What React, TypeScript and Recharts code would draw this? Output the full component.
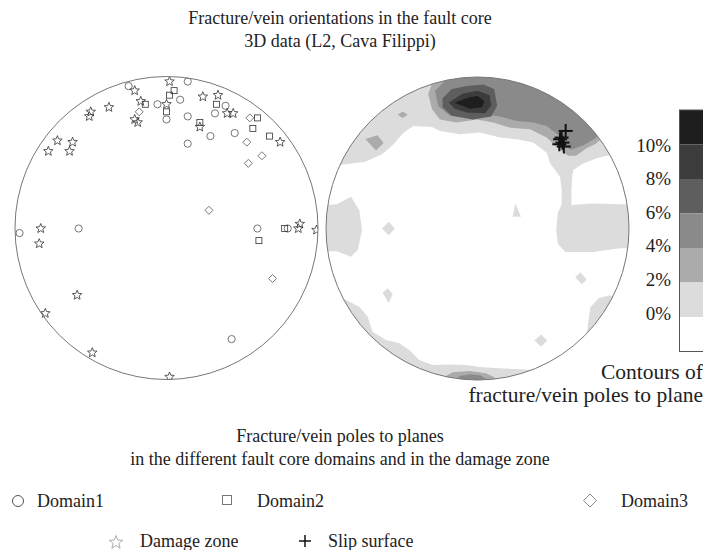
import React from "react";
import { ScatterChart, Scatter, XAxis, YAxis } from "recharts";

type Pt = { x: number; y: number };
type Poly = [number, number][];

// ---- left net: poles to planes, unit-circle coords ----
const domain1: Pt[] = [
  { x: -0.25, y: 0.94 }, { x: 0.14, y: 0.97 }, { x: 0.09, y: 0.85 }, { x: -0.06, y: 0.82 },
  { x: 0.0, y: 0.72 }, { x: 0.14, y: 0.74 }, { x: 0.32, y: 0.76 }, { x: 0.39, y: 0.81 },
  { x: 0.29, y: 0.61 }, { x: 0.45, y: 0.63 }, { x: 0.14, y: 0.56 }, { x: -0.97, y: -0.03 },
  { x: -0.58, y: 0.0 }, { x: 0.6, y: 0.0 }, { x: 0.8, y: 0.0 }, { x: 0.43, y: -0.73 },
];

const domain2: Pt[] = [
  { x: 0.05, y: 0.91 }, { x: 0.02, y: 0.88 }, { x: -0.14, y: 0.82 }, { x: 0.0, y: 0.77 },
  { x: 0.22, y: 0.7 }, { x: 0.33, y: 0.82 }, { x: 0.6, y: 0.73 }, { x: 0.57, y: 0.66 },
  { x: 0.68, y: 0.61 }, { x: 0.61, y: -0.08 }, { x: 0.78, y: 0.0 },
];

const domain3: Pt[] = [
  { x: -0.18, y: 0.77 }, { x: 0.55, y: 0.73 }, { x: 0.53, y: 0.57 }, { x: 0.63, y: 0.48 },
  { x: 0.54, y: 0.43 }, { x: 0.28, y: 0.12 }, { x: 0.7, y: -0.33 },
];

const damageZone: Pt[] = [
  { x: 0.02, y: 0.97 }, { x: -0.21, y: 0.91 }, { x: -0.17, y: 0.84 }, { x: 0.0, y: 0.82 },
  { x: 0.24, y: 0.87 }, { x: 0.34, y: 0.88 }, { x: 0.4, y: 0.76 }, { x: 0.44, y: 0.76 },
  { x: 0.22, y: 0.67 }, { x: -0.38, y: 0.8 }, { x: -0.5, y: 0.77 }, { x: -0.51, y: 0.74 },
  { x: -0.21, y: 0.72 }, { x: -0.19, y: 0.7 }, { x: -0.72, y: 0.58 }, { x: -0.62, y: 0.57 },
  { x: -0.78, y: 0.51 }, { x: -0.64, y: 0.51 }, { x: 0.75, y: 0.57 }, { x: -0.83, y: 0.0 },
  { x: -0.84, y: -0.1 }, { x: 0.88, y: 0.03 }, { x: 0.87, y: 0.0 }, { x: 0.99, y: -0.01 },
  { x: -0.59, y: -0.44 }, { x: -0.8, y: -0.56 }, { x: -0.49, y: -0.82 }, { x: 0.02, y: -0.98 },
];

// ---- right net: slip surfaces + density contours ----
const slipSurface: Pt[] = [
  { x: 0.582, y: 0.644 }, { x: 0.545, y: 0.589 }, { x: 0.561, y: 0.567 },
  { x: 0.54, y: 0.556 }, { x: 0.57, y: 0.541 }, { x: 0.555, y: 0.6 },
];

const c0Top: Poly = [
  [-1.1, 0.4], [-0.9, 0.42], [-0.74, 0.44], [-0.63, 0.49], [-0.56, 0.55], [-0.49, 0.63],
  [-0.424, 0.677], [-0.3, 0.67], [-0.248, 0.644], [-0.116, 0.622], [0.017, 0.633],
  [0.149, 0.6], [0.259, 0.589], [0.368, 0.567], [0.457, 0.5], [0.479, 0.43], [0.545, 0.342],
  [0.556, 0.25], [0.555, 0.16], [0.53, 0.1], [0.52, -0.01], [0.53, -0.1], [0.58, -0.155],
  [0.76, -0.155], [0.94, -0.13], [1.1, -0.13], [1.1, 0.155], [0.95, 0.16], [0.75, 0.165],
  [0.62, 0.155], [0.62, 0.25], [0.625, 0.34], [0.632, 0.386], [0.7, 0.43], [0.787, 0.463],
  [0.875, 0.485], [1.1, 0.5], [1.1, 1.1], [-1.1, 1.1],
];
const c0Left: Poly = [
  [-1.1, 0.15], [-0.93, 0.16], [-0.835, 0.21], [-0.78, 0.12], [-0.762, -0.01],
  [-0.79, -0.14], [-0.835, -0.186], [-0.93, -0.15], [-1.1, -0.15],
];
const c0Bottom: Poly = [
  [-1.0, -0.4], [-0.846, -0.483], [-0.78, -0.516], [-0.725, -0.582], [-0.692, -0.681],
  [-0.604, -0.736], [-0.516, -0.758], [-0.45, -0.802], [-0.384, -0.868], [-0.296, -0.901],
  [-0.186, -0.897], [-0.076, -0.901], [0.034, -0.916], [0.144, -0.923], [0.276, -0.929],
  [0.364, -0.934], [0.45, -1.0], [0.0, -1.1], [-0.8, -1.0],
];
const c0BottomRight: Poly = [
  [0.72, -0.7], [0.745, -0.52], [0.8, -0.46], [0.87, -0.44], [1.0, -0.5], [0.85, -0.65],
];
const c0Spots: Poly[] = [
  [[-0.63, 0.0], [-0.586, 0.045], [-0.545, 0.0], [-0.586, -0.045]],
  [[0.25, 0.166], [0.287, 0.078], [0.232, 0.078]],
  [[-0.593, -0.395], [-0.56, -0.432], [-0.586, -0.494], [-0.626, -0.424]],
  [[0.645, -0.32], [0.68, -0.29], [0.72, -0.335], [0.69, -0.37]],
  [[0.375, -0.74], [0.42, -0.7], [0.46, -0.74], [0.42, -0.78]],
];
const c2Top: Poly = [
  [-0.3, 1.1], [-0.3, 0.96], [-0.325, 0.886], [-0.3, 0.787], [-0.248, 0.72], [-0.137, 0.7],
  [-0.005, 0.72], [0.104, 0.7], [0.215, 0.665], [0.347, 0.655], [0.457, 0.6], [0.53, 0.53],
  [0.6, 0.48], [0.65, 0.48], [0.72, 0.53], [0.78, 0.56], [0.83, 0.6], [1.1, 0.8], [1.1, 1.1],
];
const c2Spots: Poly[] = [
  [[-0.74, 0.59], [-0.66, 0.615], [-0.62, 0.565], [-0.67, 0.515]],
  [[-0.527, 0.751], [-0.494, 0.772], [-0.461, 0.751], [-0.494, 0.73]],
  [[-0.25, -1.0], [-0.208, -0.974], [-0.164, -0.949], [-0.054, -0.941], [0.056, -0.956],
    [0.111, -0.982], [0.15, -1.05], [-0.1, -1.1]],
];
const c4Top: Poly = [
  [-0.203, 1.05], [-0.203, 0.989], [-0.28, 0.907], [-0.259, 0.809], [-0.18, 0.743],
  [-0.071, 0.739], [0.038, 0.754], [0.148, 0.739], [0.259, 0.71], [0.368, 0.699],
  [0.456, 0.677], [0.53, 0.62], [0.57, 0.545], [0.62, 0.52], [0.7, 0.55], [0.77, 0.59],
  [0.9, 0.7], [0.6, 1.0], [0.1, 1.1],
];
const c4Bottom: Poly = [
  [-0.14, -1.0], [-0.12, -0.975], [-0.05, -0.962], [0.02, -0.97], [0.06, -0.995], [0.0, -1.05],
];
const c6Peak: Poly = [
  [-0.23, 0.86], [-0.17, 0.92], [-0.07, 0.94], [0.04, 0.95], [0.11, 0.92], [0.13, 0.81],
  [0.09, 0.74], [-0.03, 0.72], [-0.17, 0.745], [-0.23, 0.8],
];
const c8Peak: Poly = [
  [-0.19, 0.83], [-0.1, 0.89], [0.0, 0.91], [0.08, 0.88], [0.09, 0.81], [0.05, 0.76],
  [-0.07, 0.765], [-0.15, 0.79],
];
const c10Peak: Poly = [
  [-0.15, 0.83], [-0.06, 0.865], [0.0, 0.875], [0.045, 0.84], [0.03, 0.8], [-0.05, 0.79],
];

const levelLabels = ["10%", "8%", "6%", "4%", "2%", "0%"];
const levelColors = ["#1e1e1e", "#3c3c3c", "#5e5e5e", "#8a8a8a", "#ababab", "#dcdcdc", "#ffffff"];

const contourLayers: { poly: Poly; color: string }[] = [
  c0Top, c0Left, c0Bottom, c0BottomRight, ...c0Spots,
].map((poly) => ({ poly, color: levelColors[5] }))
  .concat([c2Top, ...c2Spots].map((poly) => ({ poly, color: levelColors[4] })))
  .concat([c4Top, c4Bottom].map((poly) => ({ poly, color: levelColors[3] })))
  .concat([{ poly: c6Peak, color: levelColors[2] }, { poly: c8Peak, color: levelColors[1] }, { poly: c10Peak, color: levelColors[0] }]);

const toPts = (p: Poly): Pt[] => p.map(([x, y]) => ({ x, y }));

const R = 151.5;
const SIZE = 303;
const FONT = "'Liberation Serif', 'Times New Roman', serif";

function starPath(cx: number, cy: number, ro: number, ri: number) {
  let d = "";
  for (let i = 0; i < 10; i++) {
    const r = i % 2 === 0 ? ro : ri;
    const a = -Math.PI / 2 + (i * Math.PI) / 5;
    d += (i === 0 ? "M" : "L") + (cx + r * Math.cos(a)).toFixed(2) + "," + (cy + r * Math.sin(a)).toFixed(2);
  }
  return d + "Z";
}

const CircleMark = (p: any) => <circle cx={p.cx} cy={p.cy} r={3.6} fill="none" stroke="#666" strokeWidth={0.9} />;
const SquareMark = (p: any) => (
  <rect x={p.cx - 3} y={p.cy - 3} width={6} height={6} fill="none" stroke="#333" strokeWidth={0.8} />
);
const DiamondMark = (p: any) => (
  <path d={`M${p.cx},${p.cy - 4}L${p.cx + 4},${p.cy}L${p.cx},${p.cy + 4}L${p.cx - 4},${p.cy}Z`} fill="none" stroke="#555" strokeWidth={0.8} />
);
const StarMark = (p: any) => <path d={starPath(p.cx, p.cy, 5, 2.2)} fill="none" stroke="#333" strokeWidth={0.8} />;
const PlusMark = (p: any) => (
  <g stroke="#111" strokeWidth={2}>
    <line x1={p.cx - 7} y1={p.cy} x2={p.cx + 7} y2={p.cy} />
    <line x1={p.cx} y1={p.cy - 7} x2={p.cx} y2={p.cy + 7} />
  </g>
);
const NoMark = () => <g />;

export default function App() {
  const rx = 326, ry = 77;
  return (
    <div style={{ position: "absolute", left: 0, top: 0, width: 703, height: 550, background: "#fff", overflow: "hidden" }}>
      <div style={{ position: "absolute", left: 15, top: 76.5 }}>
        <ScatterChart width={SIZE} height={SIZE} margin={{ top: 0, right: 0, bottom: 0, left: 0 }}>
          <XAxis type="number" dataKey="x" domain={[-1, 1]} hide allowDataOverflow />
          <YAxis type="number" dataKey="y" domain={[-1, 1]} hide allowDataOverflow />
          <Scatter data={domain1} shape={CircleMark} isAnimationActive={false} />
          <Scatter data={domain2} shape={SquareMark} isAnimationActive={false} />
          <Scatter data={domain3} shape={DiamondMark} isAnimationActive={false} />
          <Scatter data={damageZone} shape={StarMark} isAnimationActive={false} />
        </ScatterChart>
      </div>
      <div style={{ position: "absolute", left: rx, top: ry }}>
        <ScatterChart width={SIZE} height={SIZE} margin={{ top: 0, right: 0, bottom: 0, left: 0 }}>
          <XAxis type="number" dataKey="x" domain={[-1, 1]} hide allowDataOverflow />
          <YAxis type="number" dataKey="y" domain={[-1, 1]} hide allowDataOverflow />
          {contourLayers.map((l, i) => (
            <Scatter
              key={i}
              data={toPts(l.poly)}
              shape={NoMark}
              line={{ fill: l.color, stroke: "none" }}
              lineType="joint"
              isAnimationActive={false}
            />
          ))}
          <Scatter data={slipSurface} shape={PlusMark} isAnimationActive={false} />
        </ScatterChart>
      </div>
      <svg width={703} height={550} style={{ position: "absolute", left: 0, top: 0, pointerEvents: "none" }} fontFamily={FONT} fontSize={18} fill="#222">
        <path
          fillRule="evenodd"
          fill="#fff"
          d={`M${rx},${ry}H${rx + SIZE}V${ry + SIZE}H${rx}Z M${rx + R},${ry}A${R},${R} 0 1,1 ${rx + R},${ry + SIZE}A${R},${R} 0 1,1 ${rx + R},${ry}Z`}
        />
        <circle cx={166.5} cy={228} r={R} fill="none" stroke="#777" strokeWidth={1} />
        <circle cx={477.5} cy={228.5} r={R} fill="none" stroke="#777" strokeWidth={1} />

        <text x={340} y={24} textAnchor="middle">Fracture/vein orientations in the fault core</text>
        <text x={340} y={47} textAnchor="middle">3D data (L2, Cava Filippi)</text>

        {levelColors.map((c, i) => (
          <rect key={c} x={679.5} y={110 + i * 34.5} width={30} height={34.5} fill={c} />
        ))}
        <rect x={679.5} y={110} width={30} height={34.5 * 7} fill="none" stroke="#555" strokeWidth={1} />
        {levelLabels.map((t, i) => (
          <text key={t} x={671} y={151.5 + i * 33.6} textAnchor="end" fontSize={19}>{t}</text>
        ))}
        <text x={703} y={379} textAnchor="end" fontSize={21.5}>Contours of</text>
        <text x={703} y={402} textAnchor="end" fontSize={21.5}>fracture/vein poles to plane</text>

        <text x={340} y={442} textAnchor="middle">Fracture/vein poles to planes</text>
        <text x={340} y={465} textAnchor="middle">in the different fault core domains and in the damage zone</text>

        <circle cx={18} cy={501} r={5.5} fill="none" stroke="#555" strokeWidth={1} />
        <text x={37} y={507}>Domain1</text>
        <rect x={222.5} y={495.5} width={9} height={9} fill="none" stroke="#777" strokeWidth={1} />
        <text x={257} y={507}>Domain2</text>
        <path d="M590,494L596.5,500.5L590,507L583.5,500.5Z" fill="none" stroke="#888" strokeWidth={1} />
        <text x={621} y={507}>Domain3</text>
        <path d={starPath(116, 542.5, 7, 3)} fill="none" stroke="#999" strokeWidth={0.8} />
        <text x={140} y={547}>Damage zone</text>
        <g stroke="#111" strokeWidth={1.5}>
          <line x1={299} y1={541} x2={311} y2={541} />
          <line x1={305} y1={535} x2={305} y2={547} />
        </g>
        <text x={328} y={547}>Slip surface</text>
      </svg>
    </div>
  );
}
